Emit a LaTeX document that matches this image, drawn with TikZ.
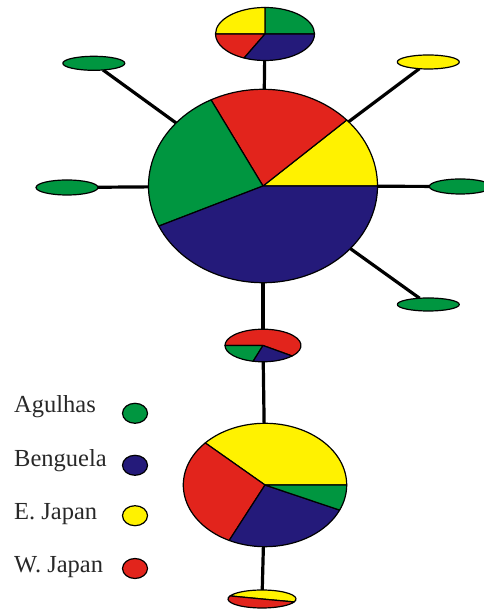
\documentclass[tikz,border=0pt]{standalone}
\usepackage{fontspec}
\setmainfont{Liberation Serif}
\usetikzlibrary{shapes.geometric,backgrounds}
\definecolor{cgreen}{RGB}{0,150,64}
\definecolor{cblue}{RGB}{36,26,122}
\definecolor{cyellow}{RGB}{255,242,0}
\definecolor{cred}{RGB}{226,36,28}
\definecolor{ctext}{RGB}{40,40,40}
\newcommand{\pwedge}[6]{%
  \filldraw[fill=#6, outl] (#1.center) -- ++(#4:#2pt and #3pt)
    arc[start angle=#4, end angle=#5, x radius=#2pt, y radius=#3pt] -- cycle;}
\begin{document}
\begin{tikzpicture}[x=1pt,y=1pt,
  outl/.style={draw=black, line width=1.2pt, line join=round},
  hap/.style={ellipse, inner sep=0pt, outer sep=0pt},
  small/.style={hap, outl, minimum width=62pt, minimum height=14pt},
  conn/.style={draw=black, line width=3.2pt},
  lbl/.style={anchor=base west, inner sep=0pt, text=ctext, font=\fontsize{24.5}{28}\selectfont},
  key/.style={hap, outl, minimum width=25pt, minimum height=20pt}]
\useasboundingbox (0,0) rectangle (483,609);
% pie haplotypes
\node[hap, minimum width=229pt, minimum height=193.4pt] (big) at (263,423) {};
\node[hap, minimum width=99pt, minimum height=53pt] (top) at (265,575) {};
\node[hap, minimum width=76pt, minimum height=32.6pt] (mid) at (263,263.5) {};
\node[hap, minimum width=163.4pt, minimum height=123.4pt] (bot) at (265,124) {};
\node[hap, minimum width=68pt, minimum height=18pt] (tail) at (262,10) {};
% single haplotypes
\node[small, fill=cgreen] (tl) at (93.8,545.7) {};
\node[small, fill=cyellow] (tr) at (428.3,547) {};
\node[small, fill=cgreen, minimum height=15pt] (lf) at (67,421.5) {};
\node[small, fill=cgreen, minimum height=15pt] (rt) at (460.3,422.5) {};
\node[small, fill=cgreen, minimum height=13pt] (br) at (428.3,304.5) {};
% connectors
\begin{scope}[on background layer]
\draw[conn] (top) -- (big);
\draw[conn] (big) -- (mid);
\draw[conn] (mid) -- (bot);
\draw[conn] (bot) -- (tail);
\draw[conn] (tl) -- (big);
\draw[conn] (tr) -- (big);
\draw[conn] (lf) -- (big);
\draw[conn] (rt) -- (big);
\draw[conn] (br) -- (big);
\end{scope}
% big pie
\pwedge{big}{114.5}{96.7}{0}{43}{cyellow}
\pwedge{big}{114.5}{96.7}{43}{117}{cred}
\pwedge{big}{114.5}{96.7}{117}{204.5}{cgreen}
\pwedge{big}{114.5}{96.7}{204.5}{360}{cblue}
% top pie
\pwedge{top}{49.5}{26.5}{0}{90}{cgreen}
\pwedge{top}{49.5}{26.5}{90}{180}{cyellow}
\pwedge{top}{49.5}{26.5}{180}{245}{cred}
\pwedge{top}{49.5}{26.5}{245}{360}{cblue}
% middle pie
\pwedge{mid}{38}{16.3}{-40}{180}{cred}
\pwedge{mid}{38}{16.3}{180}{255}{cgreen}
\pwedge{mid}{38}{16.3}{255}{320}{cblue}
% bottom pie
\pwedge{bot}{81.7}{61.7}{0}{137}{cyellow}
\pwedge{bot}{81.7}{61.7}{137}{244}{cred}
\pwedge{bot}{81.7}{61.7}{244}{336}{cblue}
\pwedge{bot}{81.7}{61.7}{336}{360}{cgreen}
% tail pie
\pwedge{tail}{34}{9}{-19}{160}{cyellow}
\pwedge{tail}{34}{9}{160}{341}{cred}
% legend
\node[lbl] (la) at (14,196) {Agulhas};
\node[lbl] (lb) at (14,142) {Benguela};
\node[lbl] (lc) at (14,89) {E. Japan};
\node[lbl] (ld) at (14,36) {W. Japan};
\node[key, fill=cgreen] (ka) at (135,195.7) {};
\node[key, fill=cblue] (kb) at (135,143.7) {};
\node[key, fill=cyellow] (kc) at (135,93.3) {};
\node[key, fill=cred] (kd) at (135,40.5) {};
\end{tikzpicture}
\end{document}
